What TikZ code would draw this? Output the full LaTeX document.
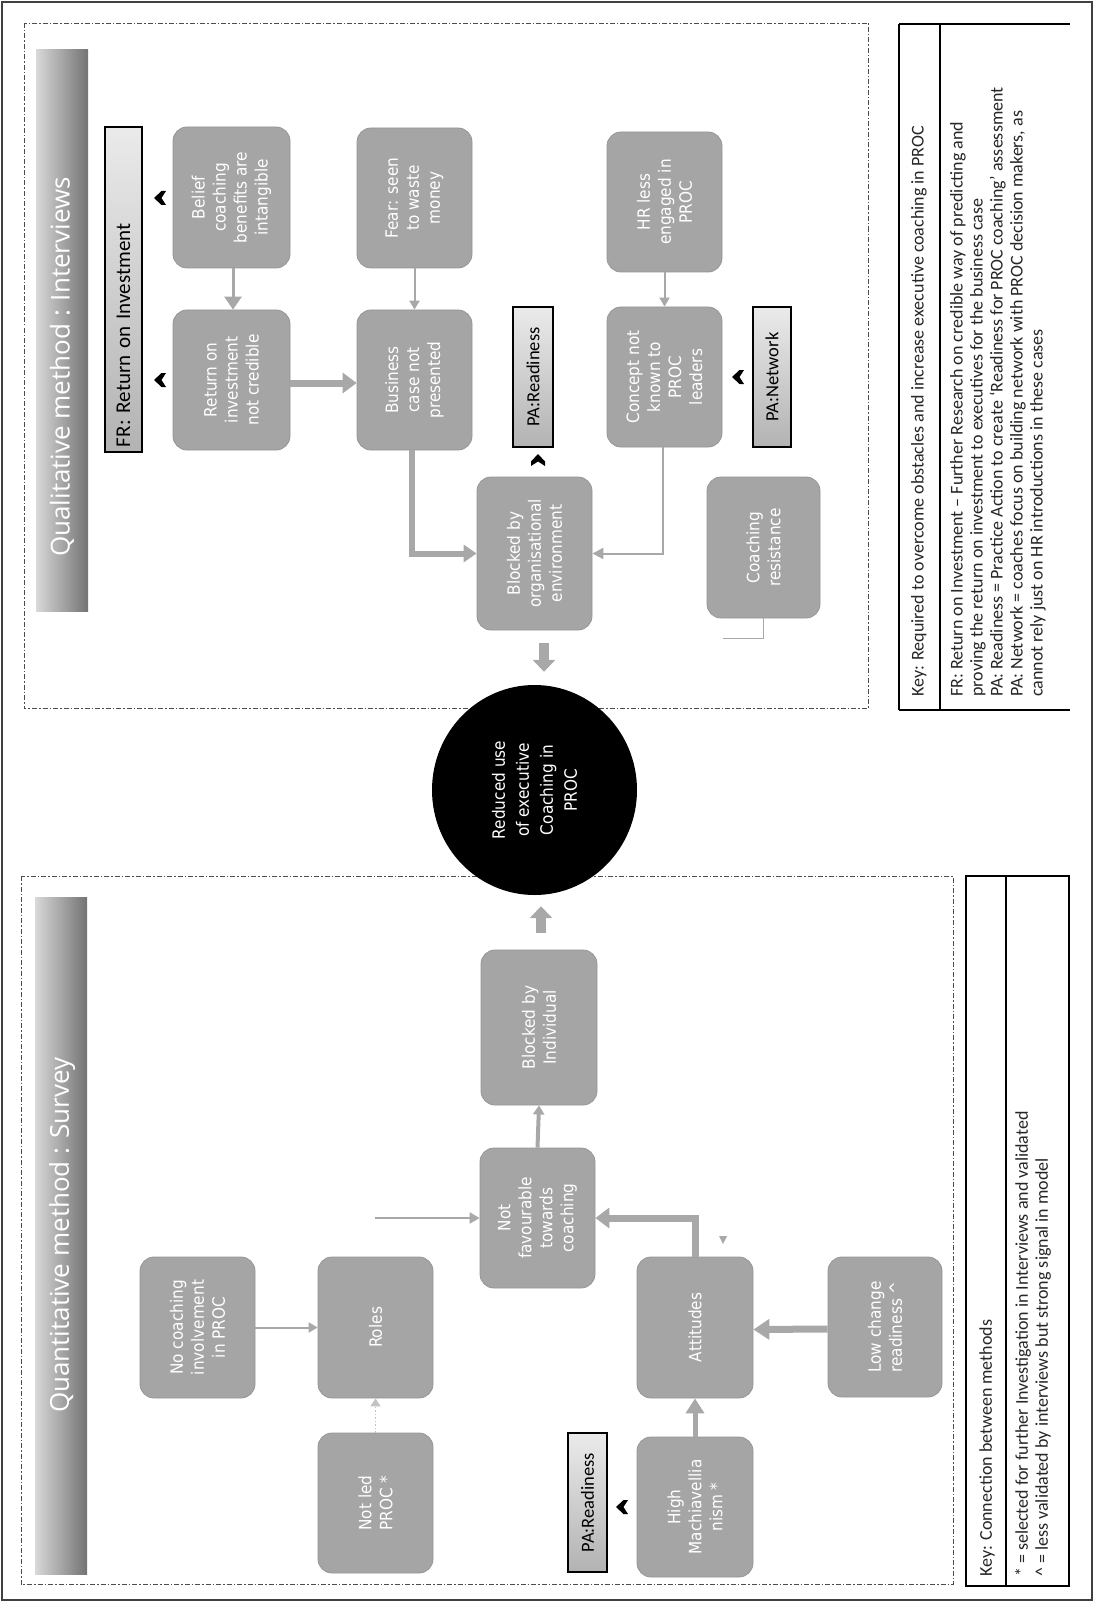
\documentclass[tikz,border=0pt]{standalone}
\usepackage{fontspec}
\setmainfont{Carlito}
\newfontfamily\boxfont[FakeStretch=0.9]{DejaVu Sans}
\newfontfamily\titlefont{Open Sans}
\usetikzlibrary{arrows.meta,shapes.geometric,calc}
\definecolor{boxgray}{RGB}{165,165,165}
\definecolor{boxedge}{RGB}{150,150,150}
\definecolor{conngray}{RGB}{168,168,168}
\begin{document}
\begin{tikzpicture}[x=1pt,y=-1pt,
  box/.style 2 args={rotate=90, draw=boxedge, line width=0.8pt, fill=boxgray,
    rounded corners=14pt, text=white, font=\boxfont\fontsize{17}{21}\selectfont,
    align=center, inner sep=2pt, minimum width=#1, minimum height=#2},
  tag/.style 2 args={rotate=90, draw=black, line width=2.5pt, top color=black!8,
    bottom color=black!30, font=\fontsize{18.5}{20}\selectfont, inner sep=0pt,
    minimum width=#1, minimum height=#2},
  keytext/.style={rotate=90, inner sep=0pt, font=\fontsize{18}{20}\selectfont, text=black!85},
  titletext/.style={rotate=90, inner sep=0pt, text=white, font=\titlefont\fontsize{26}{30}\selectfont},
  conn/.style={draw=conngray},
  tipL/.style={-{Triangle[width=20pt,length=14pt]}},
  tipM/.style={-{Triangle[width=17pt,length=13pt]}},
  tipS/.style={-{Triangle[width=10pt,length=9pt]}},
  chev/.pic={\fill[black] (-6,0) -- (1.5,-7) -- (6,-7) -- (1.5,0) -- (6,7) -- (1.5,7) -- cycle;},
]
\useasboundingbox (0,0) rectangle (1094,1602);
\fill[white] (0,0) rectangle (1094,1602);
% outer frame
\draw[black!75, line width=1.2pt] (2,2) rectangle (1092,1600);
% dashed section frames
\draw[black!70, line width=0.9pt, dash pattern=on 5pt off 2pt on 1.5pt off 2pt] (24,23) rectangle (868,708);
\draw[black!70, line width=0.9pt, dash pattern=on 5pt off 2pt on 1.5pt off 2pt] (21,876) rectangle (953,1584);
% title bars
\shade[left color=black!15, right color=black!55] (36,50) rectangle (88,611);
\shade[left color=black!15, right color=black!55] (35,897) rectangle (87,1574);
\node[titletext, anchor=west] (qualtitle) at (62,557) {Qualitative method : Interviews};
\node[titletext, anchor=west] (quanttitle) at (62,1413) {Quantitative method : Survey};

% ---------- Upper section ----------
\node[box={141pt}{117pt}] (belief) at (231.5,197.5) {Belief\\coaching\\benefits are\\intangible};
\node[box={140pt}{117pt}] (retinv) at (231.5,380) {Return on\\investment\\not credible};
\node[box={140pt}{115pt}] (fear) at (414.5,198) {Fear: seen\\to waste\\money};
\node[box={140pt}{115pt}] (business) at (414.5,380) {Business\\case not\\presented};
\node[box={140pt}{115pt}] (hr) at (664.5,202) {HR less\\engaged in\\PROC};
\node[box={140pt}{115pt}] (concept) at (664.5,377) {Concept not\\known to\\PROC\\leaders};
\node[box={153pt}{115pt}] (blockedorg) at (534.5,553.5) {Blocked by\\organisational\\environment};
\node[box={141pt}{113pt}] (resist) at (763.5,547.5) {Coaching\\resistance};
\node[tag={325pt}{37pt}, text width=315pt, align=left, inner xsep=5pt, font=\fontsize{21}{22}\selectfont] (fr) at (123.5,289.5) {FR: Return on Investment};
\node[tag={140pt}{40pt}] (paru) at (533,377) {PA:Readiness};
\node[tag={140pt}{38pt}] (panet) at (772,377) {PA:Network};

\node[ellipse, rotate=90, fill=black, minimum width=210pt, minimum height=205pt, inner sep=0pt,
  text=white, align=center, font=\boxfont\fontsize{17}{24}\selectfont] (goal) at (534.5,790)
  {Reduced use\\of executive\\Coaching in\\PROC};

% upper connectors
\draw[conn, line width=3pt, tipM] ($(belief.west)+(1.5,0)$) -- ($(retinv.east)+(1.5,0)$);
\draw[conn, line width=7pt, tipL] ($(retinv.south)+(0,3)$) -- ($(business.north)+(0,3)$);
\draw[conn, line width=2pt, tipS] (fear.west) -- (business.east);
\draw[conn, line width=6pt, tipM] ($(business.west)+(-2.5,0)$) |- (blockedorg.north);
\draw[conn, line width=2pt, tipS] (hr.west) -- (concept.east);
\draw[conn, line width=2pt, -{Triangle[width=11pt,length=11pt]}] ($(concept.west)+(-1.5,0)$) |- (blockedorg.south);
\draw[conn, line width=1.5pt] (resist.west) -- ++(0,20) -- ++(-41,0);
\draw[conngray, line width=10pt, -{Triangle[width=22pt,length=12pt]}] ($(blockedorg.west)+(9.5,13)$) -- ($(goal.east)+(9.5,-13)$);

% chevrons
\pic at (160,198) {chev};
\pic at (160,380) {chev};
\pic[rotate=-90] at (538,460) {chev};
\pic at (738,377) {chev};

% ---------- Lower section ----------
\node[box={155pt}{116pt}] (blockind) at (539,1027.5) {Blocked by\\Individual};
\node[box={140pt}{115pt}] (notfav) at (537.5,1218) {Not\\favourable\\towards\\coaching};
\node[box={141pt}{115pt}] (nocoach) at (197.5,1327.5) {No coaching\\involvement\\in PROC};
\node[box={141pt}{115pt}] (roles) at (375.5,1327.5) {Roles};
\node[box={140pt}{115pt}] (notled) at (375.5,1503) {Not led\\PROC *};
\node[box={141pt}{116pt}] (attitudes) at (695,1327.5) {Attitudes};
\node[box={140pt}{114pt}] (lowchange) at (885,1327) {Low change\\readiness \textasciicircum};
\node[box={140pt}{116pt}] (highmach) at (695,1507) {High\\Machiavellia\\nism *};
\node[tag={139pt}{39pt}] (parl) at (587.5,1502.5) {PA:Readiness};

\draw[conngray, line width=10pt, -{Triangle[width=22pt,length=12pt]}] ($(blockind.east)+(2,-17)$) -- ($(goal.west)+(6.5,11)$);
\draw[conn, line width=4pt, -{Triangle[width=11pt,length=9pt]}] (notfav.east) -- (blockind.west);
\coordinate (freestart) at (375,1218);
\draw[conn, line width=2pt, -{Triangle[width=11pt,length=10pt]}] (freestart) -- (notfav.north);
\draw[conn, line width=7pt, tipL] (attitudes.east) |- (notfav.south);
\fill[conngray] (719,1236) -- (727,1236) -- (723,1244) -- cycle;
\draw[conn, line width=2pt, tipS] (nocoach.south) -- (roles.north);
\draw[conngray!70, line width=1.5pt, dotted, -{Triangle[width=10pt,length=8pt]}] (notled.east) -- (roles.west);
\draw[conn, line width=5pt, -{Triangle[width=18pt,length=15pt]}] (highmach.east) -- (attitudes.west);
\draw[conn, line width=7pt, -{Triangle[width=20pt,length=16pt]}] ($(lowchange.north)+(0,2)$) -- ($(attitudes.south)+(0,2)$);
\pic at (622,1507) {chev};

% ---------- Keys ----------
\draw[black, line width=2.5pt] (899,24) -- (1070,24);
\draw[black, line width=1.5pt] (899,710) -- (1070,710);
\draw[black, line width=1.2pt] (899,24) -- (899,710);
\draw[black, line width=1.2pt] (940,24) -- (940,710);
\node[keytext, anchor=west] (keyhead1) at (919,697) {Key: Required to overcome obstacles and increase executive coaching in PROC};
\node[keytext, anchor=north west, align=left] (keybody1) at (950,697) {FR: Return on Investment -- Further Research on credible way of predicting and\\
proving the return on investment to executives for the business case\\
PA: Readiness = Practice Action to create `Readiness for PROC coaching' assessment\\
PA: Network = coaches focus on building network with PROC decision makers, as\\
cannot rely just on HR introductions in these cases};

\draw[black, line width=1.5pt] (966,876) rectangle (1069,1586);
\draw[black, line width=1.2pt] (1006,876) -- (1006,1586);
\node[keytext, anchor=west] (keyhead2) at (987,1577) {Key: Connection between methods};
\node[keytext, anchor=north west, align=left] (keybody2) at (1015,1577) {* = selected for further Investigation in Interviews and validated\\
\textasciicircum{} = less validated by interviews but strong signal in model};
\end{tikzpicture}
\end{document}
